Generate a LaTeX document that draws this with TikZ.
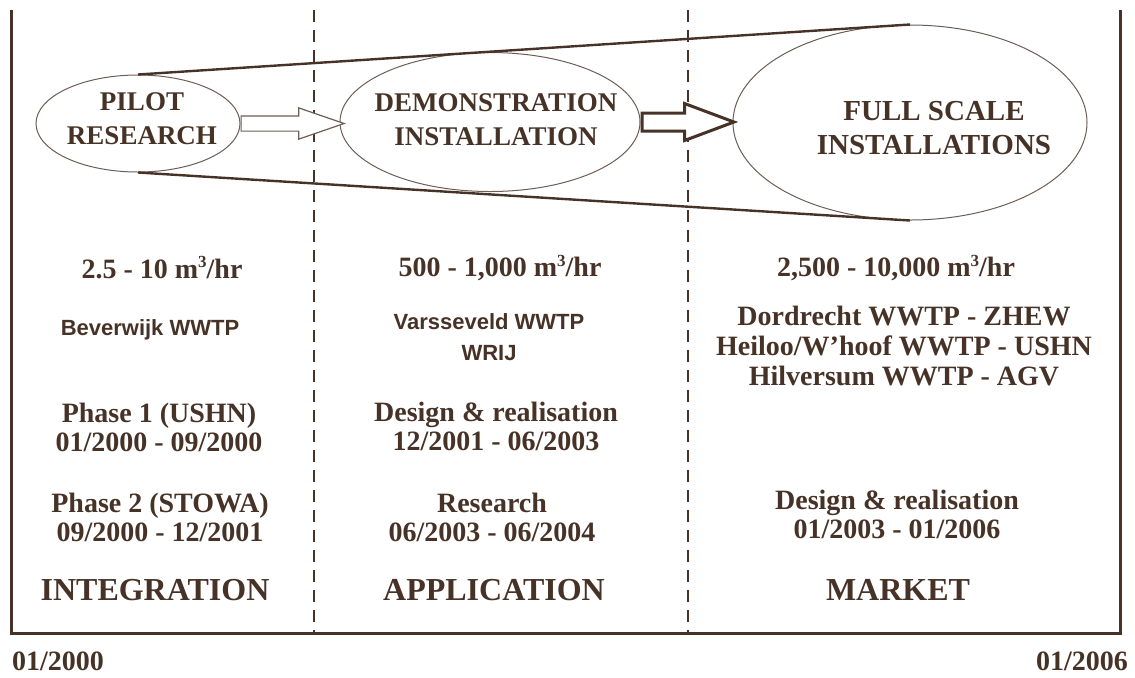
\documentclass[tikz,border=0pt]{standalone}
\usepackage{fontspec}
\setmainfont{Liberation Serif}
\newfontfamily\sitefont{Liberation Sans}
\usepackage{xcolor}
\definecolor{DiagBrown}{RGB}{70,50,38}
\definecolor{RingBrown}{RGB}{108,94,84}
\newcommand{\cubed}{\raisebox{0.85ex}{\fontsize{8.5}{8.5}\selectfont 3}}
\usepackage{tikz}
\usetikzlibrary{
    arrows.meta,
    positioning,
    calc,
    shapes.geometric,
    shapes.arrows
}
\tikzset{
    phase ring/.style={
        ellipse,
        draw=RingBrown,
        line width=0.5pt,
        inner sep=0pt
    },
    ring text/.style={
        font=\fontsize{13.5}{17}\selectfont\bfseries,
        align=center,
        text=DiagBrown,
        inner sep=0pt
    },
    cell/.style={
        font=\fontsize{14}{14.5}\selectfont\bfseries,
        align=center,
        text=DiagBrown,
        inner sep=0pt
    },
    site/.style={
        font=\sitefont\fontsize{11}{15.5}\selectfont\bfseries,
        align=center,
        text=DiagBrown,
        inner sep=0pt
    },
    stage/.style={
        font=\fontsize{16}{16}\selectfont\bfseries,
        text=DiagBrown,
        inner sep=0pt
    },
    push arrow/.style={
        single arrow,
        fill=white,
        anchor=tail,
        inner xsep=0pt,
        text height=0pt,
        text depth=0pt
    },
    frame line/.style={
        draw=DiagBrown,
        line width=1.5pt
    },
    divider/.style={
        draw=DiagBrown,
        line width=1pt,
        dash pattern=on 6pt off 4pt
    },
    funnel/.style={
        draw=DiagBrown,
        line width=1.2pt
    }
}
\begin{document}
\begin{tikzpicture}[x=0.5pt,y=-0.5pt]
%
    \useasboundingbox
    (0,0)
    rectangle
    (1135,677);
%
    \draw[
        frame line
    ]
    (11,10)
    --
    (11,633)
    --
    (1120,633)
    --
    (1120,10);
%
    \foreach \xdiv in {314,688}{
        \draw[
            divider
        ]
        (\xdiv,10)
        --
        (\xdiv,633);
    }
%
    \node[
        phase ring,
        minimum width=102pt,
        minimum height=48.5pt
    ]
    (pilot) at (138,123.5) {};
%
    \node[
        phase ring,
        minimum width=150pt,
        minimum height=69.5pt
    ]
    (demo) at (490,122) {};
%
    \node[
        phase ring,
        minimum width=177pt,
        minimum height=97.5pt
    ]
    (full) at (910,122.5) {};
%
    \draw[
        funnel
    ]
    (pilot.north)
    --
    (full.north);
%
    \draw[
        funnel
    ]
    (pilot.south)
    --
    (full.south);
%
    \node[
        ring text
    ]
    at ([xshift=2pt,yshift=2.5pt]pilot.center) {
        PILOT\\RESEARCH
    };
%
    \node[
        ring text
    ]
    at ([xshift=3pt,yshift=1pt]demo.center) {
        DEMONSTRATION\\INSTALLATION
    };
%
    \node[
        ring text,
        font=\fontsize{14.5}{17}\selectfont\bfseries
    ]
    at ([xshift=12pt,yshift=-3pt]full.center) {
        FULL SCALE\\INSTALLATIONS
    };
%
    \node[
        push arrow,
        draw=RingBrown,
        line width=0.6pt,
        minimum height=51.5pt,
        inner ysep=3.5pt,
        single arrow head extend=4pt,
        single arrow tip angle=38
    ]
    (pushA) at (pilot.east) {};
%
    \node[
        push arrow,
        draw=DiagBrown,
        line width=1.5pt,
        minimum height=46pt,
        inner ysep=3.75pt,
        single arrow head extend=4.75pt,
        single arrow tip angle=41
    ]
    (pushB) at (demo.east) {};
%
    \node[cell] (rateA) at (162,268) {2.5 - 10 m\cubed/hr};
    \node[cell] (rateB) at (500,268) {500 - 1,000 m\cubed/hr};
    \node[cell] (rateC) at (896,268) {2,500 - 10,000 m\cubed/hr};
%
    \node[site] (siteA) at (150,330) {Beverwijk WWTP};
    \node[site] (siteB) at (489,337.5) {Varsseveld WWTP\\WRIJ};
    \node[
        cell,
        font=\fontsize{14}{15}\selectfont\bfseries
    ]
    (siteC) at (904,346) {
        Dordrecht WWTP - ZHEW\\
        Heiloo/W'hoof WWTP - USHN\\
        Hilversum WWTP - AGV
    };
%
    \node[cell] (phaseA) at (159,427) {Phase 1 (USHN)\\01/2000 - 09/2000};
    \node[cell] (designB) at (496,426.5) {Design \& realisation\\12/2001 - 06/2003};
    \node[cell] (phaseAA) at (160,517) {Phase 2 (STOWA)\\09/2000 - 12/2001};
    \node[cell] (researchB) at (492,517) {Research\\06/2003 - 06/2004};
    \node[cell] (designC) at (897,514.5) {Design \& realisation\\01/2003 - 01/2006};
%
    \node[stage] (integration) at (155,590) {INTEGRATION};
    \node[stage] (application) at (494,590) {APPLICATION};
    \node[stage] (market) at (898,590) {MARKET};
%
    \node[cell] (dateStart) at (58,661) {01/2000};
    \node[cell] (dateEnd) at (1082,661) {01/2006};
%
\end{tikzpicture}
\end{document}
